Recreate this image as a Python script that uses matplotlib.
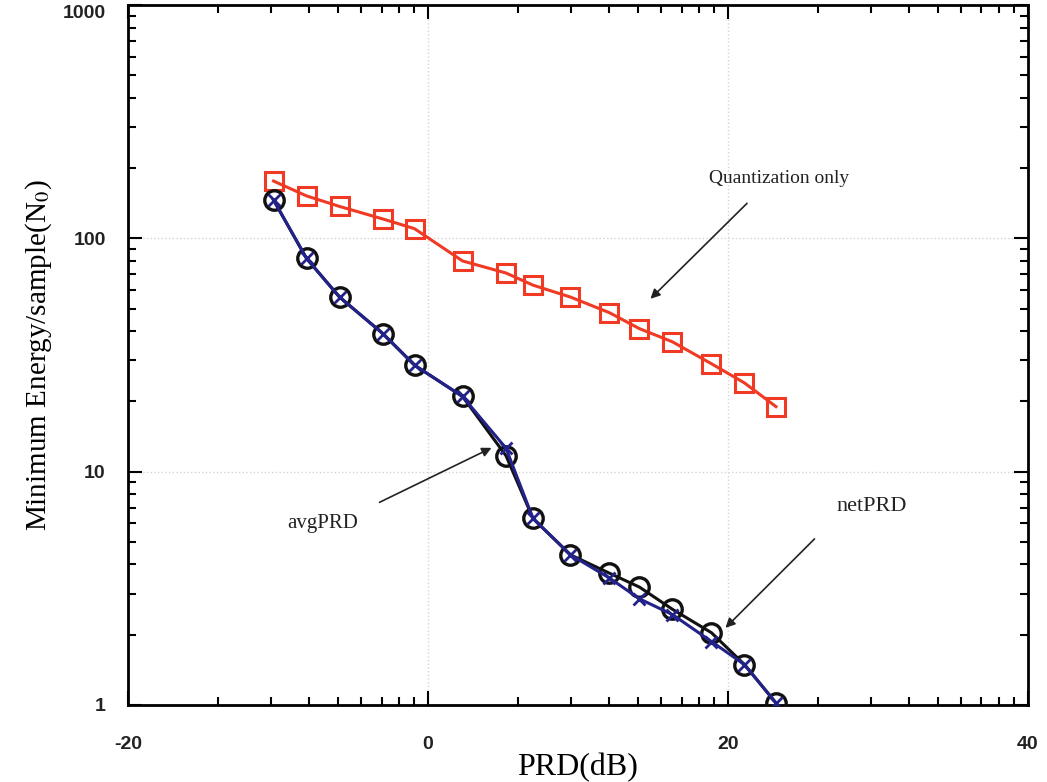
import matplotlib.pyplot as plt
import numpy as np
from matplotlib.ticker import FixedLocator, NullFormatter

# PRD values (dB) shared by all three curves
prd = [-10.3, -8.1, -5.9, -3.0, -0.9, 2.3, 5.2, 7.0, 9.5, 12.1, 14.1, 16.3, 18.9, 21.1, 23.2]

# minimum energy per sample (N0)
quant_only = [176, 152, 137, 121, 110, 80, 71, 63, 56, 48, 41, 36, 29, 24, 19]
net_prd = [146, 82, 56, 39, 28.6, 21, 11.7, 6.3, 4.4, 3.67, 3.2, 2.57, 2.04, 1.49, 1.02]
avg_prd = [146, 82, 56, 39, 28.6, 21, 12.6, 6.3, 4.4, 3.5, 2.85, 2.44, 1.87, 1.49, 1.02]

x_ticks = [-20, 0, 20, 40]
y_ticks = [1, 10, 100, 1000]

plt.rcParams['mathtext.fontset'] = 'stix'

fig = plt.figure(figsize=(10.47, 7.82), dpi=100)
ax = fig.add_axes([0.1223, 0.0985, 0.8595, 0.8951])

ax.plot(prd, quant_only, color='#f03a24', lw=2.2, marker='s', ms=12.5,
        mfc='none', mec='#f03a24', mew=2.2, zorder=3)
ax.plot(prd, net_prd, color='#111111', lw=2.2, marker='o', ms=14,
        mfc='none', mec='#111111', mew=2.4, zorder=4)
ax.plot(prd, avg_prd, color='#22228a', lw=2.2, marker='x', ms=9,
        mec='#22228a', mew=2.0, zorder=5)

ax.set_yscale('log')
ax.set_xlim(-20, 40)
ax.set_ylim(1, 1000)
ax.set_xticks(x_ticks)
ax.set_xticklabels([str(v) for v in x_ticks])
ax.set_yticks(y_ticks)
ax.set_yticklabels([str(v) for v in y_ticks])

# odd log-style minor ticks on the linear x axis
xminor = []
for start in [-20, 0, 20]:
    for k in range(2, 10):
        xminor.append(start + 20 * np.log10(k))
ax.xaxis.set_minor_locator(FixedLocator(xminor))
ax.xaxis.set_minor_formatter(NullFormatter())
ax.yaxis.set_minor_formatter(NullFormatter())

ax.tick_params(which='both', direction='in', top=True, right=True, width=1.5)
ax.tick_params(which='major', length=10, labelsize=14, pad=16)
ax.tick_params(which='minor', length=6)
ax.tick_params(axis='x', pad=22)
for lbl in ax.get_xticklabels() + ax.get_yticklabels():
    lbl.set_family('Liberation Sans')
    lbl.set_weight('bold')
    lbl.set_color('#222222')
# top label sits a bit below the frame in the original
ax.get_yticklabels()[-1].set_va('top')
for sp in ax.spines.values():
    sp.set_linewidth(2)

ax.grid(True, which='major', ls=':', color='#d4d4d4', lw=1)

ax.set_xlabel('PRD(dB)', family='Liberation Serif', fontsize=23, labelpad=0)
ax.set_ylabel(r'Minimum Energy/sample(N$_0$)', family='Liberation Serif',
              fontsize=21, labelpad=6)

arrow = dict(arrowstyle='-|>', color='#222222', lw=1.2, mutation_scale=14)
ax.annotate('', xy=(14.7, 54), xytext=(21.4, 144), arrowprops=arrow)
ax.text(23.4, 181, 'Quantization only', family='Liberation Serif', fontsize=14,
        ha='center', va='center', color='#222222')
ax.annotate('', xy=(4.4, 12.8), xytext=(-3.4, 7.3), arrowprops=arrow)
ax.text(-7.0, 5.97, 'avgPRD', family='Liberation Serif', fontsize=15,
        ha='center', va='center', color='#222222')
ax.annotate('', xy=(19.7, 2.1), xytext=(25.9, 5.25), arrowprops=arrow)
ax.text(29.6, 7.1, 'netPRD', family='Liberation Serif', fontsize=16,
        ha='center', va='center', color='#222222')

fig.savefig('out.png', dpi=100)
